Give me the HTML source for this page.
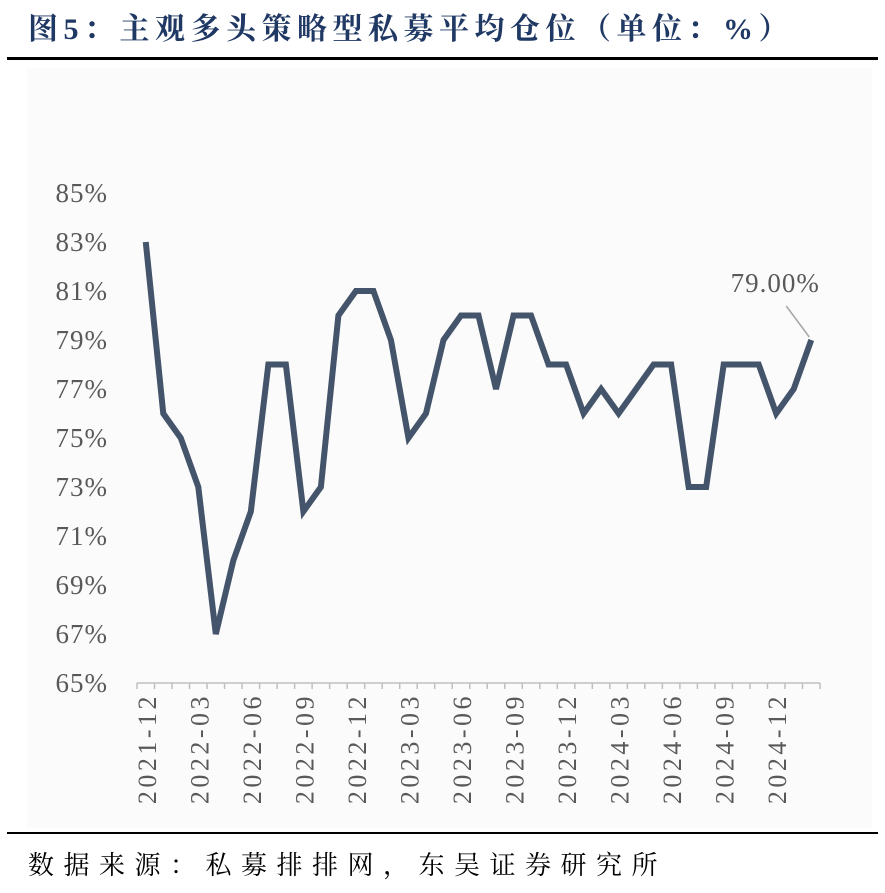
<!DOCTYPE html>
<html><head><meta charset="utf-8"><style>
body{margin:0;width:885px;height:893px;background:#fff;position:relative;overflow:hidden;font-family:"Liberation Serif","Noto Serif CJK SC",serif}
.title{position:absolute;left:28px;top:4px;font-size:30px;font-weight:bold;color:#1f3864;letter-spacing:5.5px;white-space:nowrap;font-family:"Liberation Serif","Noto Serif CJK SC",serif}
.rule{position:absolute;left:7px;width:871px;height:3px;background:#000}
.src{position:absolute;left:28px;top:845px;font-size:26px;color:#000;letter-spacing:9.5px;white-space:nowrap}
</style></head><body>
<div class="title">图5：主观多头策略型私募平均仓位（单位：%）</div>
<div class="rule" style="top:57px"></div>
<svg id="c" width="885" height="893" style="position:absolute;left:0;top:0">
<rect x="27" y="68" width="845" height="760" fill="#fbfbfb"/>
</svg>
<div class="rule" style="top:832px;height:2px"></div>
<div class="src">数据来源：私募排排网，东吴证券研究所</div>
<script>
const categories=[];(function(){let y=2021,m=12;for(let i=0;i<39;i++){categories.push(y+'-'+String(m).padStart(2,'0'));m++;if(m>12){m=1;y++;}}})();
const values=[83,76,75,73,67,70,72,78,78,72,73,80,81,81,79,75,76,79,80,80,77,80,80,78,78,76,77,76,77,78,78,73,73,78,78,78,76,77,79];
const yTicks=[65,67,69,71,73,75,77,79,81,83,85];
const lastLabel="79.00%";
const svg=document.getElementById('c');const NS='http://www.w3.org/2000/svg';
const x0=137,x1=820,yTop=193,yBot=683,yMin=65,yMax=85;
const bw=(x1-x0)/categories.length;
const X=i=>x0+bw*(i+0.5);
const Y=v=>yBot-(v-yMin)/(yMax-yMin)*(yBot-yTop);
function mk(t,a){const e=document.createElementNS(NS,t);for(const k in a)e.setAttribute(k,a[k]);svg.appendChild(e);return e;}
yTicks.forEach(v=>{const t=mk('text',{x:108,y:Y(v)+9,'text-anchor':'end','font-size':27,'letter-spacing':1,fill:'#595959','font-family':'Liberation Serif,serif'});t.textContent=v+'%';

});
const ax=mk('line',{x1:x0,x2:x1,y1:yBot,y2:yBot,stroke:'#bfbfbf','stroke-width':1.5});


for(let i=0;i<=categories.length;i++){const l=mk('line',{x1:x0+bw*i,x2:x0+bw*i,y1:yBot,y2:yBot+6,stroke:'#bfbfbf','stroke-width':1.5});

}
categories.forEach((c,i)=>{if(i%3)return;const x=X(i)+10,y=yBot+10;const t=mk('text',{x:x,y:y,transform:`rotate(-90 ${x} ${y})`,'text-anchor':'end','font-size':26,'letter-spacing':3.5,fill:'#595959','font-family':'Liberation Serif,serif'});t.textContent=c;

});
const p=mk('polyline',{points:values.map((v,i)=>X(i)+','+Y(v)).join(' '),fill:'none',stroke:'#44546a','stroke-width':6,'stroke-linejoin':'miter','stroke-miterlimit':4});


const li=values.length-1;
const ll=mk('line',{x1:X(li)-25,y1:Y(values[li])-34,x2:X(li)-2,y2:Y(values[li])-3,stroke:'#a6a6a6','stroke-width':1.5});


const lt=mk('text',{x:X(li)-36,y:Y(values[li])-48,'text-anchor':'middle','font-size':27,'letter-spacing':1,fill:'#595959','font-family':'Liberation Serif,serif'});lt.textContent=lastLabel;


</script>
</body></html>
